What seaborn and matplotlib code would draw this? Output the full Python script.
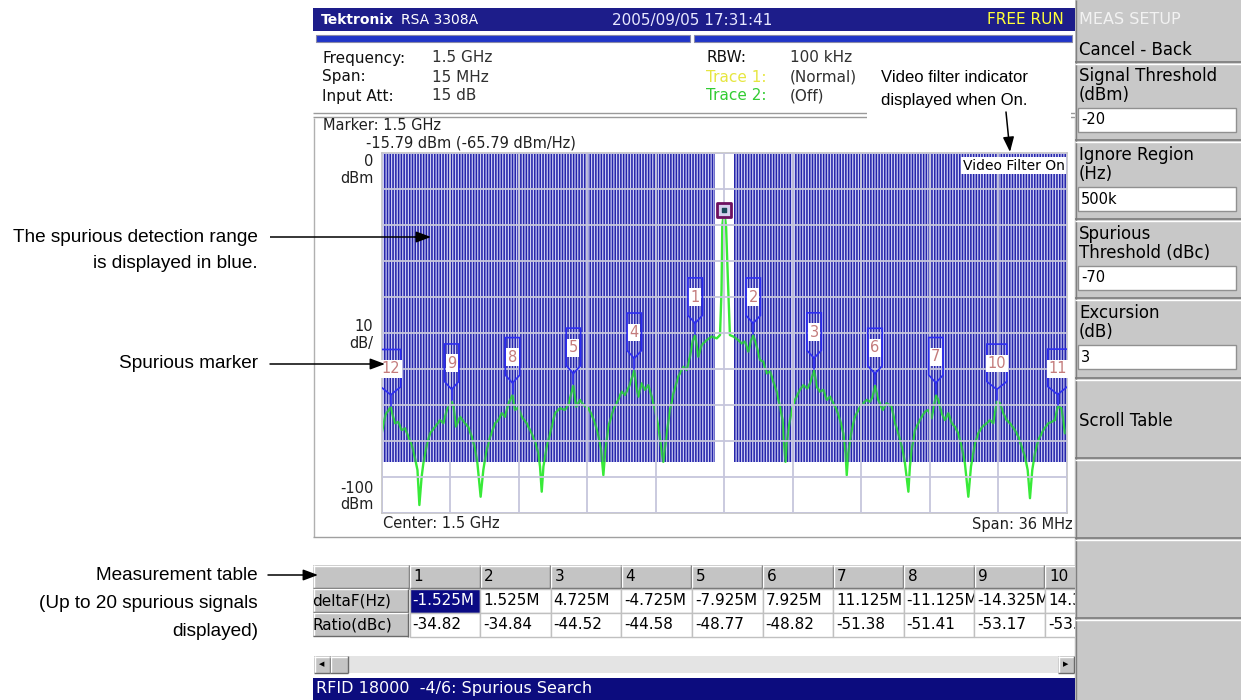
import numpy as np
import pandas as pd
import matplotlib
matplotlib.use("Agg")
import matplotlib.pyplot as plt
import seaborn as sns
from matplotlib.patches import Rectangle, Polygon, FancyArrowPatch
from matplotlib import font_manager

# ---------------- data ----------------
center_freq_label = "1.5 GHz"
span_mhz = 36.0
carrier_dbm = -15.79
carrier_dbm_per_hz = -65.79
ignore_region_mhz = 0.5
spurious_threshold_dbc = -70.0
ref_level_dbm = 0.0
bottom_level_dbm = -100.0
db_per_div = 10

trace_mhz = [
    -18.00, -17.80, -17.53, -17.40, -17.30, -17.13, -16.95, -16.77, -16.60, -16.42, -16.25, -16.12,
    -16.02, -15.90, -15.81, -15.63, -15.46, -15.20, -14.93, -14.76, -14.58, -14.33, -14.22, -14.10,
    -13.88, -13.62, -13.45, -13.27, -13.10, -12.97, -12.80, -12.66, -12.52, -12.30, -12.04, -11.87,
    -11.69, -11.52, -11.34, -11.13, -10.99, -10.82, -10.64, -10.38, -10.12, -9.94, -9.77, -9.68,
    -9.59, -9.50, -9.33, -9.15, -8.89, -8.63, -8.37, -8.19, -8.03, -7.93, -7.78, -7.58, -7.40,
    -7.14, -6.96, -6.79, -6.62, -6.47, -6.35, -6.26, -6.09, -5.83, -5.57, -5.39, -5.21, -5.00,
    -4.73, -4.62, -4.51, -4.34, -4.16, -3.99, -3.81, -3.64, -3.46, -3.32, -3.20, -3.02, -2.85,
    -2.67, -2.41, -2.15, -1.97, -1.80, -1.65, -1.53, -1.36, -1.18, -0.92, -0.66, -0.39, -0.22,
    -0.14, -0.10, 0.00, 0.10, 0.20, 0.30,
    0.48, 0.74, 0.92, 1.09, 1.27, 1.42, 1.53, 1.71, 1.88, 2.06, 2.23, 2.41, 2.58, 2.76, 2.93,
    3.07, 3.14, 3.22, 3.30, 3.37, 3.55, 3.72, 3.98, 4.16, 4.37, 4.51, 4.73, 4.86, 5.03, 5.21,
    5.39, 5.56, 5.73, 5.91, 6.09, 6.26, 6.38, 6.44, 6.52, 6.70, 6.87, 7.14, 7.31, 7.49, 7.66,
    7.80, 7.93, 8.10, 8.33, 8.54, 8.80, 8.98, 9.15, 9.29, 9.41, 9.50, 9.68, 9.76, 9.85, 10.03,
    10.20, 10.38, 10.55, 10.73, 10.90, 11.13, 11.25, 11.43, 11.60, 11.78, 11.96, 12.13, 12.30,
    12.48, 12.65, 12.83, 12.97, 13.18, 13.35, 13.56, 13.79, 13.97, 14.14, 14.33, 14.49, 14.67,
    14.84, 15.02, 15.28, 15.46, 15.63, 15.81, 15.95, 16.07, 16.19, 16.33, 16.51, 16.77, 17.03,
    17.21, 17.38, 17.53, 17.73, 17.91, 18.00]
trace_dbm = [
    -77.8, -72.6, -70.5, -73.2, -75.0, -74.6, -76.9, -76.4, -78.7, -81.0, -84.7, -88.0,
    -97.7, -89.8, -86.1, -81.0, -77.8, -76.0, -74.1, -75.0, -71.3, -69.0, -70.4, -75.9,
    -73.2, -75.0, -76.0, -78.7, -81.9, -86.1, -95.4, -88.0, -83.3, -78.7, -75.0, -74.1,
    -72.2, -73.2, -69.5, -67.2, -71.3, -70.6, -73.2, -75.0, -77.8, -80.1, -83.3, -87.0,
    -94.0, -87.0, -81.5, -77.8, -72.2, -70.8, -71.3, -69.9, -66.5, -64.6, -70.4, -68.5, -69.9,
    -70.8, -72.7, -75.0, -78.2, -82.4, -89.4, -83.3, -75.9, -71.3, -68.5, -66.2, -67.1, -64.8,
    -60.4, -64.8, -67.6, -63.9, -65.7, -64.4, -67.6, -71.3, -75.9, -81.5, -85.7, -77.8, -71.3,
    -66.7, -62.0, -59.3, -60.2, -56.5, -52.0, -50.6, -56.5, -53.2, -51.9, -50.9, -51.4, -50.5,
    -38.0, -20.0, -15.79, -20.5, -36.0, -50.5,
    -50.9, -51.9, -52.8, -52.3, -55.1, -51.9, -50.6, -53.7, -57.4, -57.9, -61.1, -60.6, -63.4, -66.2, -70.4,
    -74.1, -80.0, -85.7, -80.0, -76.9, -71.3, -68.5, -65.7, -64.4, -65.3, -63.9, -60.3, -64.8, -66.2, -65.7,
    -68.5, -67.6, -69.4, -71.3, -74.1, -77.8, -83.3, -89.4, -83.3, -76.9, -73.2, -70.4, -69.4, -68.5, -69.0,
    -67.6, -64.6, -68.5, -71.3, -69.4, -70.4, -75.0, -77.8, -80.6, -83.3, -86.1, -94.0, -87.0, -82.4, -76.9,
    -75.0, -73.2, -71.8, -71.3, -73.6, -67.2, -68.5, -72.2, -74.1, -72.2, -75.0, -76.0, -77.8,
    -81.5, -86.1, -95.4, -87.0, -80.6, -77.8, -76.0, -75.0, -74.1, -75.0, -69.0, -69.4, -72.2,
    -74.1, -75.0, -76.9, -78.7, -81.5, -84.3, -88.0, -95.8, -88.0, -83.3, -79.6, -76.9, -75.0,
    -74.6, -74.1, -70.4, -70.8, -77.8, -77.0]

spur_number = [1, 2, 3, 4, 5, 6, 7, 8, 9, 10, 11, 12]
spur_delta_mhz = [-1.525, 1.525, 4.725, -4.725, -7.925, 7.925, 11.125, -11.125, -14.325, 14.325, 17.525, -17.525]
spur_ratio_dbc = [-34.82, -34.84, -44.52, -44.58, -48.77, -48.82, -51.38, -51.41, -53.17, -53.21, -54.60, -54.70]

table_columns = ["1", "2", "3", "4", "5", "6", "7", "8", "9", "10"]
table_deltaf = ["-1.525M", "1.525M", "4.725M", "-4.725M", "-7.925M", "7.925M",
                "11.125M", "-11.125M", "-14.325M", "14.325M"]
table_ratio = ["-34.82", "-34.84", "-44.52", "-44.58", "-48.77", "-48.82",
               "-51.38", "-51.41", "-53.17", "-53.21"]

setup_titles = [("Signal Threshold", "(dBm)"), ("Ignore Region", "(Hz)"),
                ("Spurious", "Threshold (dBc)"), ("Excursion", "(dB)")]
setup_values = ["-20", "500k", "-70", "3"]

# ---------------- style ----------------
sns.set_theme(style="white")
plt.rcParams["font.family"] = ["DejaVu Sans"]
plt.rcParams["hatch.color"] = "#2424aa"
plt.rcParams["hatch.linewidth"] = 1.0

names = {f.name for f in font_manager.fontManager.ttflist}
if "Liberation Sans Narrow" in names:
    ANN_FONT, ANN_SIZE, VID_SIZE = "Liberation Sans Narrow", 15, 14
else:
    ANN_FONT, ANN_SIZE, VID_SIZE = "Liberation Sans", 13.7, 12

W, H = 1241, 700
fig = plt.figure(figsize=(W / 100, H / 100), dpi=100)
fig.patch.set_facecolor("white")

bg = fig.add_axes([0, 0, 1, 1], zorder=0)
bg.set_xlim(0, W)
bg.set_ylim(H, 0)
bg.axis("off")

ov = fig.add_axes([0, 0, 1, 1], zorder=5)
ov.set_xlim(0, W)
ov.set_ylim(H, 0)
ov.axis("off")


def rect(a, x0, y0, x1, y1, fc, ec="none", lw=0, z=1):
    a.add_patch(Rectangle((x0, y0), x1 - x0, y1 - y0, facecolor=fc,
                          edgecolor=ec, linewidth=lw, zorder=z))


def hline(a, x0, x1, y, c, lw=1, z=2):
    a.plot([x0, x1], [y, y], color=c, lw=lw, zorder=z, solid_capstyle="butt")


def vline(a, x, y0, y1, c, lw=1, z=2):
    a.plot([x, x], [y0, y1], color=c, lw=lw, zorder=z, solid_capstyle="butt")


def txt(a, x, y, s, size=11, color="black", ha="left", va="center", z=5, **kw):
    a.text(x, y, s, fontsize=size, color=color, ha=ha, va=va, zorder=z, **kw)


def raised(a, x0, y0, x1, y1, fc="#c4c4c4", z=3):
    rect(a, x0, y0, x1, y1, fc, z=z)
    hline(a, x0, x1, y0 + 0.5, "white", 1, z + 0.1)
    vline(a, x0 + 0.5, y0, y1, "white", 1, z + 0.1)
    hline(a, x0, x1, y1 - 0.5, "#6a6a6a", 1, z + 0.1)
    vline(a, x1 - 0.5, y0, y1, "#6a6a6a", 1, z + 0.1)


# ---------------- screen background ----------------
rect(bg, 313, 0, 1075, 700, "white", z=0.5)
# title bar
rect(bg, 313, 8, 1075, 31, "#1d1d8a", z=1)
txt(bg, 321, 20, "Tektronix", 10, "white", weight="bold")
txt(bg, 401, 20, "RSA 3308A", 10, "white")
txt(bg, 612, 20, "2005/09/05 17:31:41", 11, "#e8e8ff")
txt(bg, 1064, 20, "FREE RUN", 11, "#ffff3a", ha="right")
# thin blue status bars
rect(bg, 316, 35, 690, 42, "#2035c8", ec="#8a8aa8", lw=0.8)
rect(bg, 694, 35, 1072, 42, "#2035c8", ec="#8a8aa8", lw=0.8)

# info area
info_left = [("Frequency:", "1.5 GHz", 58), ("Span:", "15 MHz", 77), ("Input Att:", "15 dB", 96)]
for lab, val, y in info_left:
    txt(bg, 322, y, lab, 11, "#101010")
    txt(bg, 432, y, val, 11, "#303030")
txt(bg, 706, 58, "RBW:", 11, "#101010")
txt(bg, 790, 58, "100 kHz", 11, "#303030")
txt(bg, 706, 77, "Trace 1:", 11, "#e6e640")
txt(bg, 790, 77, "(Normal)", 11, "#303030")
txt(bg, 706, 96, "Trace 2:", 11, "#33cc33")
txt(bg, 790, 96, "(Off)", 11, "#303030")

hline(bg, 313, 1075, 113, "#9a9a9a", 1)
hline(bg, 313, 1075, 117, "#9a9a9a", 1)

txt(bg, 323, 126, "Marker: " + center_freq_label, 10.5, "#202020")
txt(bg, 366, 143, f"{carrier_dbm:.2f} dBm ({carrier_dbm_per_hz:.2f} dBm/Hz)", 10.5, "#202020")

vline(bg, 313.5, 118, 537, "#b0b0b0", 1)
vline(bg, 1074.5, 118, 700, "#b0b0b0", 1)
hline(bg, 313, 1075, 537, "#a0a0a0", 1)
txt(bg, 383, 524, "Center: " + center_freq_label, 10.5, "#202020")
txt(bg, 1073, 524, f"Span: {span_mhz:.0f} MHz", 10.5, "#202020", ha="right")

# ---------------- spectrum plot ----------------
PL, PR, PT, PB = 381.7, 1066.7, 153.3, 513.3
ax = fig.add_axes([PL / W, 1 - PB / H, (PR - PL) / W, (PB - PT) / H], zorder=2)
half = span_mhz / 2
ax.set_xlim(-half, half)
ax.set_ylim(bottom_level_dbm, ref_level_dbm)
ax.set_facecolor("white")

thr = carrier_dbm + spurious_threshold_dbc
for x0, x1 in [(-half, -ignore_region_mhz), (ignore_region_mhz, half)]:
    ax.add_patch(Rectangle((x0, thr), x1 - x0, ref_level_dbm - thr, facecolor="#cdcdf4",
                           edgecolor="#2424aa", hatch="||||||", linewidth=0, zorder=1))
    ax.add_patch(Rectangle((x0, thr), x1 - x0, ref_level_dbm - thr, facecolor="none",
                           edgecolor="#2424aa", hatch="||||||", linewidth=0, alpha=0.45,
                           zorder=2.2))

df = pd.DataFrame({"freq": trace_mhz, "level": trace_dbm})
sns.lineplot(data=df, x="freq", y="level", ax=ax, color="#38ea38", lw=1.7,
             sort=False, estimator=None, zorder=2)

ax.set_xticks(np.linspace(-half, half, 11))
ax.set_yticks(np.arange(bottom_level_dbm, ref_level_dbm + 1, db_per_div))
ax.set_axisbelow(False)
ax.grid(True, color="#c6c6dc", lw=1.3)
ax.tick_params(length=0, labelleft=False, labelbottom=False)
ax.set_xlabel("")
ax.set_ylabel("")
for s in ax.spines.values():
    s.set_color("#c4c4c4")
    s.set_linewidth(1.2)

# spurious markers
for n, f, r in zip(spur_number, spur_delta_mhz, spur_ratio_dbc):
    L = carrier_dbm + r
    hw = 0.38 if n < 10 else 0.52
    poly = Polygon([(f - hw, L + 16), (f + hw, L + 16), (f + hw, L + 5.6),
                    (f, L + 3.4), (f - hw, L + 5.6)], closed=True, facecolor="none",
                   edgecolor="#2e2ef0", lw=1.2, zorder=4)
    ax.add_patch(poly)
    ax.plot([f, f], [L + 3.4, L + 0.4], color="#2e2ef0", lw=1.2, zorder=4)
    ax.text(f, L + 10.6, str(n), ha="center", va="center", fontsize=10.5, color="#c47c7c",
            bbox=dict(facecolor="white", edgecolor="none", pad=1.0), zorder=5)

# main marker on carrier
ax.scatter([0], [carrier_dbm], marker="s", s=95, facecolor="#d6d0ee",
           edgecolor="#6e1060", linewidths=2, zorder=6)
ax.scatter([0], [carrier_dbm], marker="s", s=8, color="#1b4a5a", zorder=7)

ax.text(0.997, 0.985, "Video Filter On", transform=ax.transAxes, ha="right", va="top",
        fontsize=10, color="black", bbox=dict(facecolor="white", edgecolor="none", pad=1.2),
        zorder=8)

ytr = ax.get_yaxis_transform()
ax.text(-0.012, ref_level_dbm - 0.3, "0\ndBm", transform=ytr, ha="right", va="top",
        fontsize=10.5, color="#202020", multialignment="right", linespacing=1.1)
ax.text(-0.012, -50.5, "10\ndB/", transform=ytr, ha="right", va="center",
        fontsize=10.5, color="#202020", multialignment="right", linespacing=1.1)
ax.text(-0.012, bottom_level_dbm + 0.4, "-100\ndBm", transform=ytr, ha="right",
        va="bottom", fontsize=10.5, color="#202020", multialignment="right", linespacing=1.1)

# ---------------- measurement table ----------------
rows_y = [565, 588.5, 612.5, 636.5]
col_x0, col_w = 409.5, 70.6
raised(bg, 313, rows_y[0], col_x0, rows_y[1], z=3)
for i, c in enumerate(table_columns):
    x0 = col_x0 + i * col_w
    raised(bg, x0, rows_y[0], x0 + col_w, rows_y[1], z=3 + i * 0.01)
    txt(bg, x0 + 4, (rows_y[0] + rows_y[1]) / 2, c, 11, "black", z=4)
for j, lab in enumerate(["deltaF(Hz)", "Ratio(dBc)"]):
    y0, y1 = rows_y[j + 1], rows_y[j + 2]
    raised(bg, 313, y0, 408, y1, z=3)
    t = bg.text(312, (y0 + y1) / 2, lab, fontsize=11, color="black", ha="left",
                va="center", zorder=4)
    t.set_clip_path(Rectangle((313, y0), 95, y1 - y0, transform=bg.transData))
for j, row in enumerate([table_deltaf, table_ratio]):
    y0, y1 = rows_y[j + 1], rows_y[j + 2]
    for i, v in enumerate(row):
        x0 = col_x0 + i * col_w
        z = 10 + 2 * i
        hi = (j == 0 and i == 0)
        rect(bg, x0, y0, x0 + col_w, y1, "#0a0a84" if hi else "white",
             ec="#c0c0c0", lw=1, z=z)
        txt(bg, x0 + 3, (y0 + y1) / 2, v, 11, "white" if hi else "black", z=z + 1)

# scrollbar
rect(bg, 314, 656, 1074, 673, "#e4e4e4", z=3)
raised(bg, 314, 656, 330, 673, z=4)
raised(bg, 330, 656, 348, 673, z=4)
raised(bg, 1058, 656, 1074, 673, z=4)
txt(bg, 322, 664.5, "\u25c0", 5, "black", ha="center", z=5)
txt(bg, 1066, 664.5, "\u25b6", 5, "black", ha="center", z=5)

# status bar
rect(bg, 313, 678, 1075, 700, "#0c0c7e", z=3)
txt(bg, 316, 689, "RFID 18000  -4/6: Spurious Search", 11.5, "white", z=4)

# ---------------- softkey panel ----------------
rect(bg, 1075, 0, 1241, 700, "#c8c8c8", z=50)
vline(bg, 1075.5, 0, 700, "#808080", 1, 51)
txt(bg, 1079, 20, "MEAS SETUP", 11.5, "#f2f2f2", z=52)
for y in [62, 140, 219, 298, 378, 458, 538, 618]:
    hline(bg, 1075, 1241, y, "#7a7a7a", 1.2, 51)
    hline(bg, 1075, 1241, y + 1.5, "white", 1, 51)
txt(bg, 1079, 50, "Cancel - Back", 12, "black", z=52)
for k, ((t1, t2), val) in enumerate(zip(setup_titles, setup_values)):
    base = 62 + k * 79
    txt(bg, 1079, base + 14, t1, 12, "black", z=52)
    txt(bg, 1079, base + 33, t2, 12, "black", z=52)
    rect(bg, 1078, base + 46, 1236, base + 70, "white", ec="#909090", lw=1, z=52)
    txt(bg, 1081, base + 58, val, 10.5, "black", z=53)
txt(bg, 1079, 421, "Scroll Table", 12, "black", z=52)

# ---------------- annotations ----------------
def arrow(p0, p1):
    ov.add_patch(FancyArrowPatch(p0, p1, arrowstyle="-|>,head_length=0.75,head_width=0.28",
                                 mutation_scale=12, color="black", lw=1.1,
                                 shrinkA=0, shrinkB=0, zorder=20))


af = dict(family=ANN_FONT, fontsize=ANN_SIZE, color="black")
vf = dict(family=ANN_FONT, fontsize=VID_SIZE, color="black")
ov.text(258, 237, "The spurious detection range", ha="right", va="center", **af)
ov.text(258, 264, "is displayed in blue.", ha="right", va="center", **af)
hline(ov, 270, 420, 237, "black", 1.1, 19)
arrow((415, 237), (431, 237))

ov.text(258, 364, "Spurious marker", ha="right", va="center", **af)
arrow((270, 364), (385, 364))

ov.text(258, 575, "Measurement table", ha="right", va="center", **af)
ov.text(258, 604, "(Up to 20 spurious signals", ha="right", va="center", **af)
ov.text(258, 632, "displayed)", ha="right", va="center", **af)
arrow((268, 575), (318, 575))

rect(bg, 867, 64, 1071, 119, "white", z=3)
ov.text(881, 77, "Video filter indicator", ha="left", va="center", **vf)
ov.text(881, 101, "displayed when On.", ha="left", va="center", **vf)
arrow((1006, 112), (1010, 152))

fig.savefig("out.png", dpi=100)
